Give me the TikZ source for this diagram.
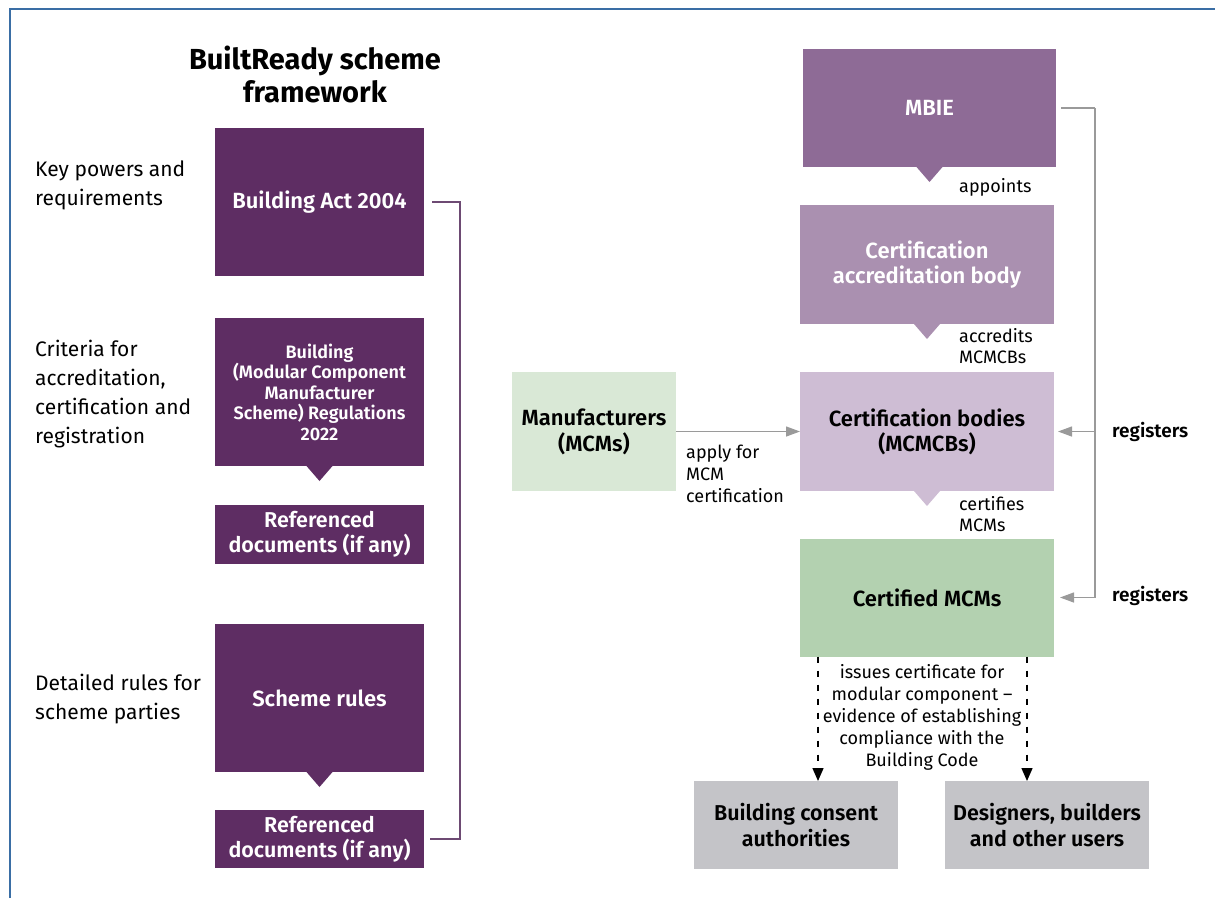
\documentclass[tikz,border=0pt]{standalone}
\usepackage{fontspec}
\setmainfont{Fira Sans}[BoldFont={Fira Sans SemiBold}]
\newfontfamily\titlefont{Fira Sans}
\usetikzlibrary{arrows.meta,calc}

\definecolor{actpurple}{HTML}{5E2D63}
\definecolor{mbiecol}{HTML}{8E6B96}
\definecolor{cabcol}{HTML}{AA90B0}
\definecolor{mcmcbcol}{HTML}{CEBDD4}
\definecolor{certcol}{HTML}{B3D1B0}
\definecolor{mfrcol}{HTML}{D9E8D6}
\definecolor{usercol}{HTML}{C4C4C8}
\definecolor{bracketcol}{HTML}{6D4A73}
\definecolor{regcol}{HTML}{9A9A9A}
\definecolor{framecol}{HTML}{3A6EA5}

\tikzset{
  box/.style={rectangle, inner sep=3pt, outer sep=0pt, align=center, font=\bfseries\fontsize{22}{26}\selectfont},
  darkbox/.style={box, fill=actpurple, text=white},
  sidetext/.style={anchor=west, align=left, inner sep=0pt, font=\fontsize{21}{29}\selectfont},
  smalltext/.style={anchor=west, align=left, inner sep=0pt, font=\fontsize{18}{21}\selectfont},
  regline/.style={regcol, line width=1.3pt},
  regarrow/.style={regline, -{Triangle[width=10pt,length=14pt]}},
  issuearrow/.style={black, line width=1.4pt, dash pattern=on 6pt off 8pt, -{Triangle[width=11pt,length=13pt]}}
}

\begin{document}
\begin{tikzpicture}[x=1pt, y=-1pt]
    \useasboundingbox (0,0) rectangle (1215,898);
    \draw[framecol, line width=1.6pt] (10,898) -- (10,9) -- (1215,9);

    % left: scheme framework
    \node[font=\titlefont\bfseries\fontsize{29}{33}\selectfont, align=center] (title) at (315,74) {BuiltReady scheme\\framework};

    \node[darkbox, minimum width=209, minimum height=148] (act) at (319.5,202) {Building Act 2004};
    \node[darkbox, minimum width=209, minimum height=148, font=\bfseries\fontsize{18}{20.5}\selectfont] (regs) at (319.5,392)
        {Building\\(Modular Component\\Manufacturer\\Scheme) Regulations\\2022};
    \node[darkbox, minimum width=209, minimum height=59, font=\bfseries\fontsize{21.5}{25}\selectfont] (ref1) at (319.5,534.5) {Referenced\\documents (if any)};
    \node[darkbox, minimum width=209, minimum height=148] (scheme) at (319.5,698) {Scheme rules};
    \node[darkbox, minimum width=209, minimum height=58, font=\bfseries\fontsize{21.5}{25}\selectfont] (ref2) at (319.5,839) {Referenced\\documents (if any)};

    \node[sidetext] (keytxt) at (35,185.5) {Key powers and\\requirements};
    \node[sidetext] (crittxt) at (35,394.5) {Criteria for\\accreditation,\\certification and\\registration};
    \node[sidetext] (ruletxt) at (35,699) {Detailed rules for\\scheme parties};

    \draw[bracketcol, line width=1.3pt] ($(act.east)+(8,0)$) -- ++(28,0) |- ($(ref2.east)+(6,0)$);

    % right: scheme parties
    \node[box, fill=mbiecol, text=white, minimum width=253, minimum height=118] (mbie) at (929.5,108) {MBIE};
    \node[box, fill=cabcol, text=white, minimum width=254, minimum height=119, font=\bfseries\fontsize{22}{25}\selectfont] (cab) at (927,264.5) {Certification\\accreditation body};
    \node[box, fill=mcmcbcol, text=black, minimum width=254, minimum height=119, font=\bfseries\fontsize{22}{25}\selectfont] (mcmcb) at (927,431.5) {Certification bodies\\(MCMCBs)};
    \node[box, fill=certcol, text=black, minimum width=254, minimum height=118] (cmcm) at (927,597.5) {Certified MCMs};
    \node[box, fill=mfrcol, text=black, minimum width=164, minimum height=119] (mfr) at (594,431.5) {Manufacturers\\(MCMs)};
    \node[box, fill=usercol, text=black, minimum width=204, minimum height=88, font=\bfseries\fontsize{21.5}{26}\selectfont] (bca) at (796,825) {Building consent\\authorities};
    \node[box, fill=usercol, text=black, minimum width=204, minimum height=88, font=\bfseries\fontsize{21.5}{26}\selectfont] (des) at (1047,825) {Designers, builders\\and other users};

    % pointers under boxes
    \foreach \b/\c in {regs/actpurple, scheme/actpurple, mbie/mbiecol, cab/cabcol, mcmcb/mcmcbcol}
        \fill[\c] ($(\b.south)+(-13,0)$) -- ($(\b.south)+(13,0)$) -- ($(\b.south)+(0,15)$) -- cycle;

    \node[smalltext] (appoints) at (959,187) {appoints};
    \node[smalltext] (accredits) at (959,346) {accredits\\MCMCBs};
    \node[smalltext] (certifies) at (959,514.5) {certifies\\MCMs};
    \node[smalltext, font=\fontsize{18}{22}\selectfont] (apply) at (686,474) {apply for\\MCM\\certification};

    \draw[regarrow] (mfr.east) -- (mcmcb.west);

    % registers
    \coordinate (rtop) at ($(mbie.east)+(39,0)$);
    \draw[regline] ($(mbie.east)+(5,0)$) -- (rtop);
    \draw[regarrow] (rtop) |- ($(cmcm.east)+(6,0)$);
    \draw[regarrow] (rtop |- mcmcb.east) -- ($(mcmcb.east)+(4,0)$);
    \node[smalltext, font=\bfseries\fontsize{19}{21}\selectfont] (reg1) at (1112,432) {registers};
    \node[smalltext, font=\bfseries\fontsize{19}{21}\selectfont] (reg2) at (1112,596) {registers};

    % certificates
    \coordinate (issueL) at ($(cmcm.south west)+(18,0)$);
    \coordinate (issueR) at ($(cmcm.south east)+(-27,0)$);
    \draw[issuearrow] (issueL) -- (issueL |- bca.north);
    \draw[issuearrow] (issueR) -- (issueR |- des.north);
    \node[smalltext, anchor=center, align=center, font=\fontsize{18}{22}\selectfont] (issues) at (922,717.5)
        {issues certificate for\\modular component --\\evidence of establishing\\compliance with the\\Building Code};
\end{tikzpicture}
\end{document}
